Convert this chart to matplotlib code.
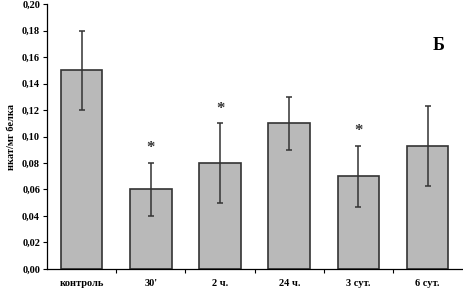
import matplotlib.pyplot as plt
from matplotlib.ticker import FuncFormatter, FixedLocator

plt.rcParams['font.family'] = ['Liberation Serif', 'DejaVu Serif']

categories = ["контроль", "30'", "2 ч.", "24 ч.", "3 сут.", "6 сут."]
values = [0.150, 0.060, 0.080, 0.110, 0.070, 0.093]
errors = [0.030, 0.020, 0.030, 0.020, 0.023, 0.030]
significant = [False, True, True, False, True, False]

fig = plt.figure(figsize=(4.63, 2.92), dpi=100)
ax = fig.add_axes([0.1015, 0.079, 0.897, 0.907])

x = list(range(len(categories)))
ax.bar(x, values, width=0.6, color='#b9b9b9', edgecolor='#333333', linewidth=1.2,
       yerr=errors, error_kw=dict(ecolor='#333333', elinewidth=1.1, capsize=2, capthick=1.1))

for i, sig in enumerate(significant):
    if sig:
        ax.text(i, values[i] + errors[i] + 0.011, '*', ha='center', va='center',
                fontsize=12, fontweight='bold', color='#333333')

ax.text(5.16, 0.169, 'Б', ha='center', va='center', fontsize=13, fontweight='bold')

ax.set_xlim(-0.5, len(categories) - 0.5)
ax.set_ylim(0, 0.20)
ax.set_yticks([i * 0.02 for i in range(11)])
ax.yaxis.set_major_formatter(FuncFormatter(lambda v, p: f"{v:.2f}".replace('.', ',')))
ax.set_xticks(x)
ax.set_xticklabels(categories)
ax.tick_params(axis='x', which='major', length=0, pad=7)
ax.xaxis.set_minor_locator(FixedLocator([i + 0.5 for i in range(len(categories) - 1)]))
ax.tick_params(axis='x', which='minor', length=3, width=0.8)
ax.tick_params(axis='y', length=3, width=0.8, pad=2)
for lab in ax.get_xticklabels() + ax.get_yticklabels():
    lab.set_fontsize(7.5)
    lab.set_fontweight('bold')

ax.set_ylabel('нкат/мг белка', fontsize=7.5, fontweight='bold', labelpad=4)
ax.spines['top'].set_visible(False)
ax.spines['right'].set_visible(False)
ax.spines['left'].set_linewidth(0.9)
ax.spines['bottom'].set_linewidth(0.9)

fig.savefig('out.png', dpi=100)
